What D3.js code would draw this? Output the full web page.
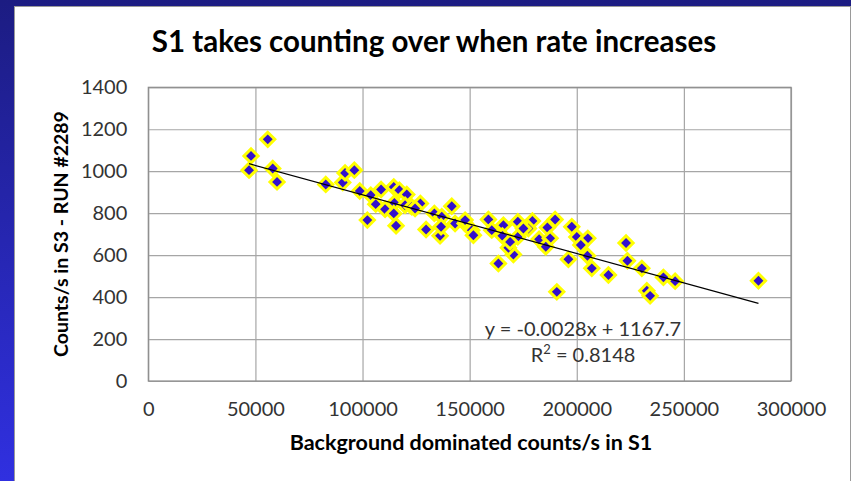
<!DOCTYPE html>
<html>
<head>
<meta charset="utf-8">
<script src="https://cdn.jsdelivr.net/npm/d3@7"></script>
<style>
  body { margin: 0; background: #fff; }
  svg { display: block; font-family: Lato, "Open Sans", sans-serif; }
</style>
</head>
<body>
<script>
// values
const bgCounts = [
  47950, 47020, 55750, 58080, 60090, 82830, 90770, 91840, 96180, 98700,
  102250, 103840, 106170, 108650, 110520, 114580, 117190, 114860, 114580, 115650,
  120650, 119850, 123000, 127000, 129660, 133540, 141650, 136990, 136190, 136660,
  143200, 147870, 150990, 158750, 160330, 165750, 165280, 163420, 170420, 168090,
  172480, 172480, 179290, 177420, 182420, 186290, 189890, 187560, 185540, 190690,
  196100, 197680, 200020, 205150, 201890, 204970, 207020, 214780, 223000, 223640,
  230370, 232700, 234240, 240450, 245920, 284810, 147870, 151750, 175090, 168880,
  124520
];
const s3Counts = [
  1073, 1005, 1152, 1013, 949, 937, 946, 992, 1005, 906,
  767, 886, 843, 913, 819, 925, 909, 849, 799, 740,
  889, 838, 830, 846, 722, 799, 833, 783, 692, 735,
  751, 751, 719, 770, 719, 743, 692, 560, 603, 635,
  759, 687, 763, 727, 676, 732, 770, 680, 640, 425,
  580, 735, 687, 680, 648, 597, 537, 505, 658, 573,
  537, 430, 406, 494, 476, 478, 767, 695, 727, 663,
  822
];
const xTicks = [0, 50000, 100000, 150000, 200000, 250000, 300000];
const yTicks = [0, 200, 400, 600, 800, 1000, 1200, 1400];
const trendSlope = -0.0028;
const trendIntercept = 1167.7;
const trendR2 = 0.8148;

const W = 851, H = 481;
const margin = { left: 148.3, top: 87.3, right: 60, bottom: 100 };
const w = W - margin.left - margin.right,
    h = H - margin.top - margin.bottom;

const data = bgCounts.map((d, i) => ({ x: d, y: s3Counts[i] }));

const svg = d3.select('body').append('svg')
    .attr('width', W)
    .attr('height', H);

// slide background + chart frame
const grad = svg.append('defs').append('linearGradient')
    .attr('id', 'slideBg')
    .attr('x1', 0).attr('y1', 0).attr('x2', 0).attr('y2', 1);
grad.append('stop').attr('offset', '0%').attr('stop-color', '#1c1c82');
grad.append('stop').attr('offset', '100%').attr('stop-color', '#3030e0');

svg.append('rect')
    .attr('width', W).attr('height', H)
    .attr('fill', 'url(#slideBg)');

svg.append('rect')
    .attr('x', 14.5).attr('y', 6.5)
    .attr('width', W - 15).attr('height', H)
    .attr('fill', '#fff')
    .attr('stroke', '#9a9a9a');

const x = d3.scaleLinear().domain([0, 300000]).range([0, w]);
const y = d3.scaleLinear().domain([0, 1400]).range([h, 0]);

const g = svg.append('g')
    .attr('transform', 'translate(' + margin.left + ',' + margin.top + ')');

// gridlines
g.append('g')
    .attr('class', 'grid')
    .call(d3.axisLeft(y).tickValues(yTicks).tickSize(-w).tickFormat(''))
    .call(a => a.select('.domain').remove());

g.append('g')
    .attr('class', 'grid')
    .attr('transform', 'translate(0,' + h + ')')
    .call(d3.axisBottom(x).tickValues(xTicks).tickSize(-h).tickFormat(''))
    .call(a => a.select('.domain').remove());

g.selectAll('.grid line')
    .attr('stroke', '#a6a6a6')
    .attr('stroke-width', 1.2);

g.append('rect')
    .attr('width', w).attr('height', h)
    .attr('fill', 'none')
    .attr('stroke', '#8c8c8c')
    .attr('stroke-width', 1.2);

// tick labels
const yAxis = g.append('g')
    .call(d3.axisLeft(y).tickValues(yTicks).tickSize(0).tickPadding(21).tickFormat(d3.format('d')));
yAxis.select('.domain').remove();
yAxis.selectAll('text')
    .attr('font-family', 'Lato, sans-serif')
    .attr('font-size', 20)
    .attr('fill', '#333');

const xAxis = g.append('g')
    .attr('transform', 'translate(0,' + h + ')')
    .call(d3.axisBottom(x).tickValues(xTicks).tickSize(0).tickPadding(21).tickFormat(d3.format('d')));
xAxis.select('.domain').remove();
xAxis.selectAll('text')
    .attr('font-family', 'Lato, sans-serif')
    .attr('font-size', 20)
    .attr('fill', '#333');

// markers
g.selectAll('.pt')
    .data(data)
    .enter().append('path')
    .attr('class', 'pt')
    .attr('d', d3.symbol().type(d3.symbolSquare).size(100))
    .attr('transform', d => 'translate(' + x(d.x) + ',' + y(d.y) + ') rotate(45)')
    .attr('fill', '#3311cc')
    .attr('stroke', '#ffff00')
    .attr('stroke-width', 3);

// linear trendline
const xExt = d3.extent(bgCounts);
g.append('line')
    .attr('x1', x(xExt[0])).attr('y1', y(trendSlope * xExt[0] + trendIntercept))
    .attr('x2', x(xExt[1])).attr('y2', y(trendSlope * xExt[1] + trendIntercept))
    .attr('stroke', '#000')
    .attr('stroke-width', 1.2);

const eq = g.append('text')
    .attr('text-anchor', 'middle')
    .attr('font-size', 20)
    .attr('fill', '#333')
    .attr('transform', 'translate(' + (583 - margin.left) + ',' + (336 - margin.top) + ')');
eq.append('tspan')
    .attr('x', 0).attr('y', 0)
    .text('y = ' + trendSlope + 'x + ' + trendIntercept);
const r2 = eq.append('tspan')
    .attr('x', 0).attr('y', 25.5);
r2.append('tspan').text('R');
r2.append('tspan').attr('font-size', 13).attr('dy', -8).text('2');
r2.append('tspan').attr('dy', 8).text(' = ' + trendR2);

// titles
svg.append('text')
    .attr('x', 434).attr('y', 52)
    .attr('text-anchor', 'middle')
    .attr('font-weight', 'bold')
    .attr('font-size', 29.5)
    .text('S1 takes counting over when rate increases');

svg.append('text')
    .attr('x', 471).attr('y', 450)
    .attr('text-anchor', 'middle')
    .attr('font-weight', 'bold')
    .attr('font-size', 21.5)
    .text('Background dominated counts/s in S1');

svg.append('text')
    .attr('transform', 'translate(68,234) rotate(-90)')
    .attr('text-anchor', 'middle')
    .attr('font-weight', 'bold')
    .attr('font-size', 19.5)
    .text('Counts/s in S3 - RUN #2289');
</script>
</body>
</html>
